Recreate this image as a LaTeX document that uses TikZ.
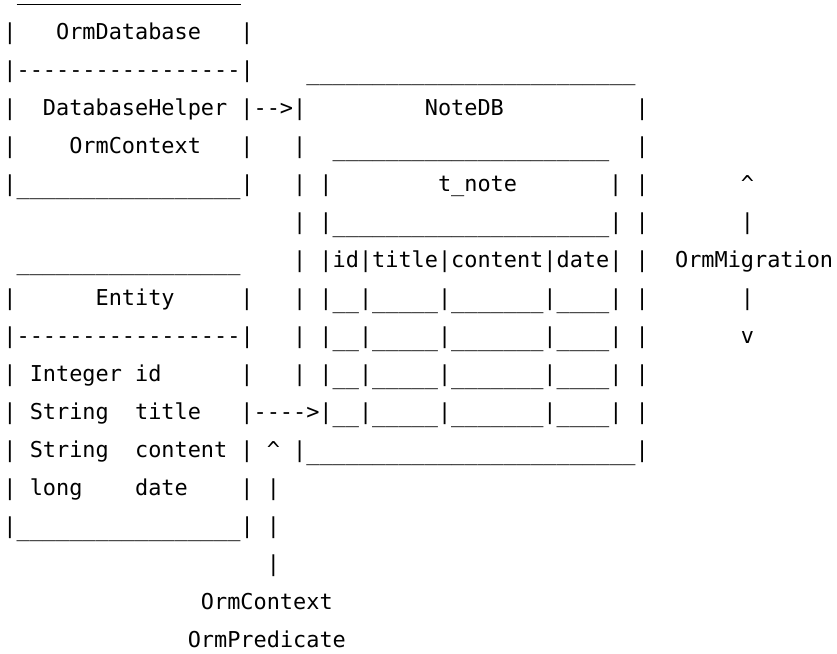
\documentclass[tikz,border=0pt]{standalone}
\usepackage{fontspec}
\setmonofont{DejaVu Sans Mono}
% repeat a piece of text n times
\newcommand\reptext[2]{\ifnum#1>0 #2\expandafter\reptext\expandafter{\the\numexpr#1-1\relax}{#2}\fi}
% an underscore set a little lower, so that rules sit below the text line
\newcommand\usc{\raisebox{-3pt}{\_}}
% one data row of the t_note table
\newcommand\tblrow{|\reptext{2}{\usc}|\reptext{5}{\usc}|\reptext{7}{\usc}|\reptext{4}{\usc}|}
\tikzset{
  asc/.style={anchor=base west, inner sep=0pt, outer sep=0pt,
    font=\ttfamily\fontsize{21.88}{26}\selectfont, text=black},
  toprule/.style={line width=1.1pt, draw=black}
}
% place text on the character grid: name, column, row, text
\newcommand\gridtext[4]{\node[asc] (#1) at ({3.415+13.17*#2},{1+38*#3}) {#4};}
\begin{document}
\begin{tikzpicture}[x=1pt,y=-1pt]
\useasboundingbox[fill=white] (0,0) rectangle (837,653);
% OrmDatabase box
\coordinate (dbTopW) at (16.6,4.5);
\coordinate (dbTopE) at (240.5,4.5);
\draw[toprule] (dbTopW) -- (dbTopE);
\gridtext{dbLa}{0}{1}{|}
\gridtext{dbTitle}{4}{1}{OrmDatabase}
\gridtext{dbRa}{18}{1}{|}
\gridtext{dbSep}{0}{2}{|-----------------|}
\gridtext{dbLb}{0}{3}{|}
\gridtext{dbHelper}{3}{3}{DatabaseHelper}
\gridtext{dbArrow}{18}{3}{|-->|}
\gridtext{dbLc}{0}{4}{|}
\gridtext{dbCtx}{5}{4}{OrmContext}
\gridtext{dbRc}{18}{4}{|}
\gridtext{dbBottom}{0}{5}{|\reptext{17}{\usc}|}
% NoteDB box
\gridtext{noteTop}{23}{2}{\reptext{25}{\usc}}
\gridtext{noteTitle}{32}{3}{NoteDB}
\gridtext{noteRa}{48}{3}{|}
\gridtext{noteLb}{22}{4}{|}
\gridtext{noteRb}{48}{4}{|}
\gridtext{noteLc}{22}{5}{|}
\gridtext{noteRc}{48}{5}{|}
\gridtext{noteLd}{22}{6}{|}
\gridtext{noteRd}{48}{6}{|}
\gridtext{noteLe}{22}{7}{|}
\gridtext{noteRe}{48}{7}{|}
\gridtext{noteLf}{22}{8}{|}
\gridtext{noteRf}{48}{8}{|}
\gridtext{noteLg}{22}{9}{|}
\gridtext{noteRg}{48}{9}{|}
\gridtext{noteLh}{22}{10}{|}
\gridtext{noteRh}{48}{10}{|}
\gridtext{noteRi}{48}{11}{|}
\gridtext{noteBottom}{22}{12}{|\reptext{25}{\usc}|}
% t_note table
\gridtext{tblTop}{25}{4}{\reptext{21}{\usc}}
\gridtext{tblLa}{24}{5}{|}
\gridtext{tblName}{33}{5}{t\_note}
\gridtext{tblRa}{46}{5}{|}
\gridtext{tblNameBottom}{24}{6}{|\reptext{21}{\usc}|}
\gridtext{tblHead}{24}{7}{|id|title|content|date|}
\gridtext{tblRowA}{24}{8}{\tblrow}
\gridtext{tblRowB}{24}{9}{\tblrow}
\gridtext{tblRowC}{24}{10}{\tblrow}
\gridtext{tblRowD}{24}{11}{\tblrow}
% OrmMigration
\gridtext{migUp}{56}{5}{\textasciicircum}
\gridtext{migBarA}{56}{6}{|}
\gridtext{migName}{51}{7}{OrmMigration}
\gridtext{migBarB}{56}{8}{|}
\gridtext{migDown}{56}{9}{v}
% Entity box
\gridtext{entTop}{1}{7}{\reptext{17}{\usc}}
\gridtext{entLa}{0}{8}{|}
\gridtext{entTitle}{7}{8}{Entity}
\gridtext{entRa}{18}{8}{|}
\gridtext{entSep}{0}{9}{|-----------------|}
\gridtext{entLb}{0}{10}{|}
\gridtext{entTypeA}{2}{10}{Integer}
\gridtext{entFieldA}{10}{10}{id}
\gridtext{entRb}{18}{10}{|}
\gridtext{entLc}{0}{11}{|}
\gridtext{entTypeB}{2}{11}{String}
\gridtext{entFieldB}{10}{11}{title}
\gridtext{entArrow}{18}{11}{|---->}
\gridtext{entLd}{0}{12}{|}
\gridtext{entTypeC}{2}{12}{String}
\gridtext{entFieldC}{10}{12}{content}
\gridtext{entRd}{18}{12}{|}
\gridtext{entLe}{0}{13}{|}
\gridtext{entTypeD}{2}{13}{long}
\gridtext{entFieldD}{10}{13}{date}
\gridtext{entRe}{18}{13}{|}
\gridtext{entBottom}{0}{14}{|\reptext{17}{\usc}|}
% OrmContext / OrmPredicate
\gridtext{ctxUp}{20}{12}{\textasciicircum}
\gridtext{ctxBarA}{20}{13}{|}
\gridtext{ctxBarB}{20}{14}{|}
\gridtext{ctxBarC}{20}{15}{|}
\gridtext{ctxName}{15}{16}{OrmContext}
\gridtext{predName}{14}{17}{OrmPredicate}
\end{tikzpicture}
\end{document}
